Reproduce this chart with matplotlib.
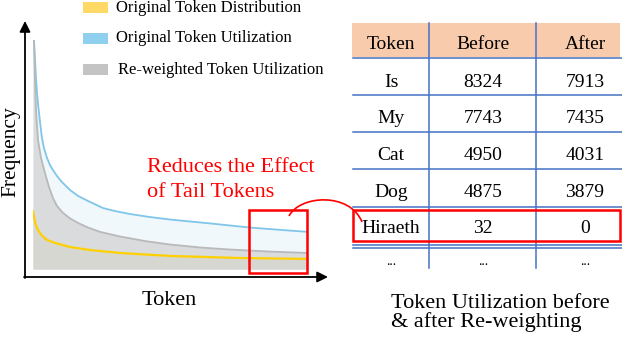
import matplotlib
matplotlib.use("Agg")
import matplotlib.pyplot as plt
from matplotlib.patches import Rectangle, PathPatch
from matplotlib.path import Path

plt.rcParams['font.family'] = ['Liberation Serif', 'DejaVu Serif']

# ---- data (token rank %, frequency %) ----
blue_x = [0, 0.36, 0.73, 1.09, 1.45, 1.82, 2.55, 3.27, 4.0, 5.09, 6.18, 7.27, 8.73, 10.5,
          13.45, 16.4, 20.0, 25.5, 29.8, 35.3, 42.5, 49.8, 64.4, 78.9, 89.8, 100]
blue_y = [100, 100, 91.3, 83.4, 77.3, 72.1, 64.2, 57.2, 52.8, 48.5, 45.4, 43.2, 40.6, 38.0,
          34.5, 31.9, 29.7, 26.6, 25.3, 24.0, 22.7, 21.6, 19.9, 18.1, 17.1, 16.2]
gray_x = [0, 0.36, 0.73, 1.09, 1.82, 2.91, 4.36, 5.82, 7.27, 8.73, 10.9, 13.45, 16.4, 19.6,
          24.4, 31.6, 40.7, 49.8, 60.7, 71.6, 86.2, 100]
gray_y = [100, 100, 82.5, 69.4, 56.3, 48.5, 41.9, 35.8, 31.0, 27.5, 24.5, 22.1, 20.1, 18.3,
          16.2, 14.2, 12.2, 10.7, 9.4, 8.5, 7.6, 7.0]
yell_x = [0, 0.36, 0.73, 1.27, 1.82, 2.55, 3.27, 5.09, 8.0, 13.45, 20.7, 31.6, 49.8, 75.3, 100]
yell_y = [25.3, 22.7, 20.5, 18.6, 17.0, 15.7, 14.6, 12.7, 11.4, 9.6, 8.3, 7.0, 5.7, 4.8, 4.4]

legend_labels = ["Original Token Distribution", "Original Token Utilization",
                 "Re-weighted Token Utilization"]
table_header = ["Token", "Before", "After"]
table_tokens = ["Is", "My", "Cat", "Dog", "Hiraeth", "..."]
table_before = ["8324", "7743", "4950", "4875", "32", "..."]
table_after = ["7913", "7435", "4031", "3879", "0", "..."]

W, H = 622, 338
fig = plt.figure(figsize=(W / 100, H / 100), dpi=100)

# ---- chart axes ----
x0, x1, ytop, ybot = 33, 308, 40, 269
ax = fig.add_axes([x0 / W, 1 - ybot / H, (x1 - x0) / W, (ybot - ytop) / H])
ax.set_xlim(0, 100)
ax.set_ylim(0, 100)
ax.axis('off')
ax.fill_between(blue_x, 0, blue_y, color='#F0F8FC', lw=0)
ax.fill_between(gray_x, 0, gray_y, color='#D9DBDC', lw=0)
ax.fill_between(yell_x, 0, yell_y, color='#D7D7D1', lw=0)
ax.plot(blue_x, blue_y, color='#7FC6EA', lw=1.3)
ax.plot(gray_x, gray_y, color='#B9B9B9', lw=1.3)
ax.plot(yell_x, yell_y, color='#FFD000', lw=1.6)

# ---- overlay canvas in pixel coordinates ----
cv = fig.add_axes([0, 0, 1, 1], facecolor='none')
cv.set_xlim(0, W)
cv.set_ylim(H, 0)
cv.axis('off')

# axes arrows
cv.annotate('', xy=(25, 21), xytext=(25, 278),
            arrowprops=dict(arrowstyle='-|>', color='black', lw=1.3,
                            mutation_scale=16, shrinkA=0, shrinkB=0))
cv.annotate('', xy=(328, 277), xytext=(24, 277),
            arrowprops=dict(arrowstyle='-|>', color='black', lw=1.3,
                            mutation_scale=16, shrinkA=0, shrinkB=0))
cv.text(169, 305, "Token", fontsize=16, ha='center', va='baseline')
cv.text(11, 152, "Frequency", fontsize=15.5, ha='center', va='center', rotation=90)

# legend
leg_cols = ['#FFD966', '#8ED0EE', '#C4C4C4']
leg_y = [7.5, 38.5, 69.5]
leg_tx = [116, 116, 118]
for c, yy, tx, lab in zip(leg_cols, leg_y, leg_tx, legend_labels):
    cv.add_patch(Rectangle((83, yy - 5.5), 25, 11, facecolor=c, edgecolor='none'))
    cv.text(tx, yy, lab, fontsize=12, ha='left', va='center')

# red annotation
cv.text(147, 172, "Reduces the Effect", fontsize=16, color='#FF0000', va='baseline')
cv.text(147, 197, "of Tail Tokens", fontsize=16, color='#FF0000', va='baseline')
cv.add_patch(Rectangle((249, 210), 58, 63, fill=False, edgecolor='#FF0000', lw=1.8))
cv.add_patch(Rectangle((353, 210), 267, 31, fill=False, edgecolor='#FF0000', lw=1.8, zorder=5))
verts = [(289, 216), (300, 195), (350, 192), (362, 222)]
cv.add_patch(PathPatch(Path(verts, [Path.MOVETO, Path.CURVE4, Path.CURVE4, Path.CURVE4]),
                       fill=False, edgecolor='#FF0000', lw=1.2))

# table
tcol = '#4472C4'
cv.add_patch(Rectangle((352, 23), 268, 34, facecolor='#F8CBAD', edgecolor='none'))
for yy in [58, 95, 132, 169, 207, 245, 248]:
    cv.plot([353, 622], [yy, yy], color=tcol, lw=1.1)
for xx in [429, 536]:
    cv.plot([xx, xx], [23, 268], color=tcol, lw=1.1)
col_x = [391, 483, 585]
for cx, hdr in zip(col_x, table_header):
    cv.text(cx, 49, hdr, fontsize=14, ha='center', va='baseline')
row_base = [87, 123, 160, 197, 233, 265]
for yb, t, b, a in zip(row_base, table_tokens, table_before, table_after):
    fs = 10 if t == "..." else 14
    cv.text(col_x[0], yb, t, fontsize=fs, ha='center', va='baseline')
    cv.text(col_x[1], yb, b, fontsize=fs, ha='center', va='baseline')
    cv.text(col_x[2], yb, a, fontsize=fs, ha='center', va='baseline')

cv.text(391, 308, "Token Utilization before", fontsize=16, va='baseline')
cv.text(391, 327, "& after Re-weighting", fontsize=16, va='baseline')

fig.savefig("out.png", dpi=100)
